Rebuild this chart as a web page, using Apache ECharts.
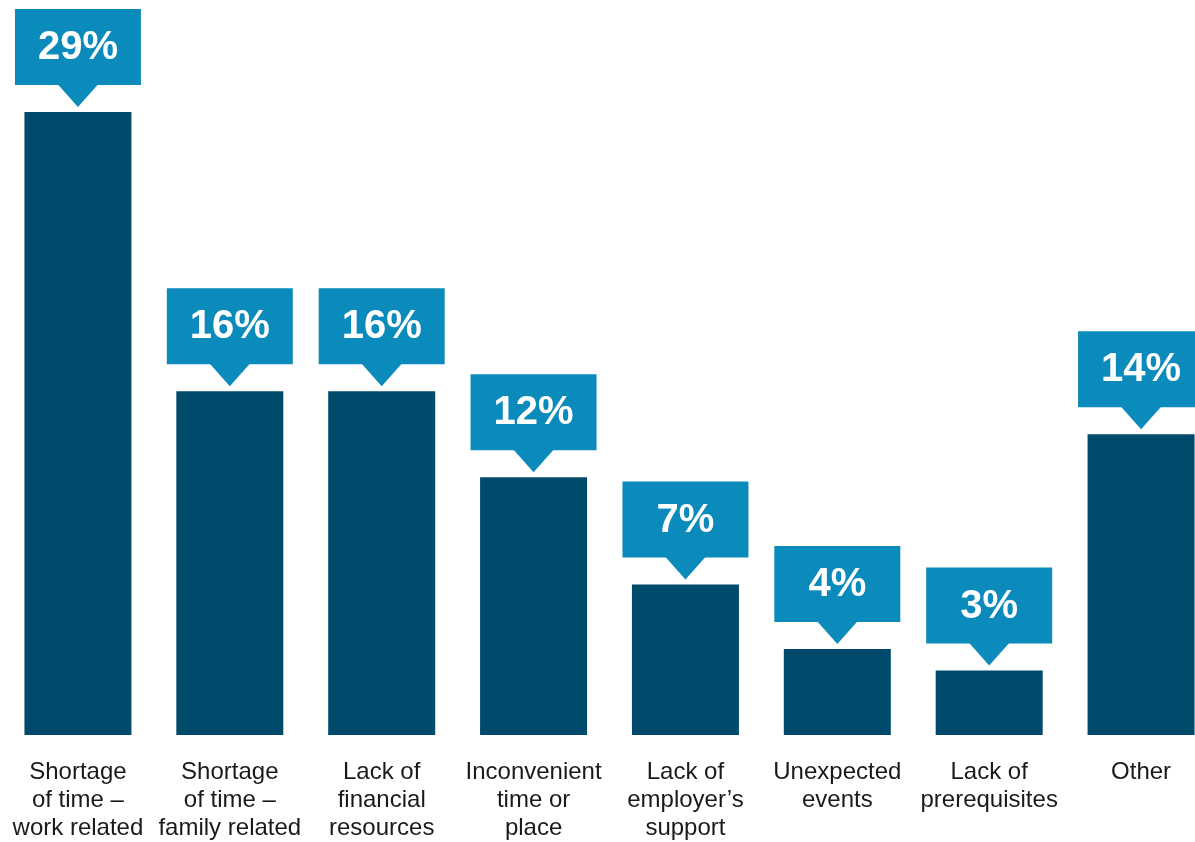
<!DOCTYPE html>
<html>
<head>
<meta charset="utf-8">
<title>Reasons for not participating</title>
<script src="https://cdn.jsdelivr.net/npm/echarts@6/dist/echarts.min.js"></script>
<style>
  html, body { margin: 0; padding: 0; background: #ffffff; overflow: hidden; }
  #chart { width: 1217px; height: 842px; }
</style>
</head>
<body>
<div id="chart"></div>
<script>
// Category names (line breaks as printed under each bar)
const categories = [
  'Shortage\nof time –\nwork related',
  'Shortage\nof time –\nfamily related',
  'Lack of\nfinancial\nresources',
  'Inconvenient\ntime or\nplace',
  'Lack of\nemployer’s\nsupport',
  'Unexpected\nevents',
  'Lack of\nprerequisites',
  'Other'
];

// Share of respondents, percent
const shares = [29, 16, 16, 12, 7, 4, 3, 14];

const BAR_COLOR = '#004b6b';
const CALLOUT_COLOR = '#0b8bbb';
const FONT = '"Liberation Sans", Arial, Helvetica, sans-serif';

const chart = echarts.init(document.getElementById('chart'), null, { renderer: 'canvas' });

// Callout box with a downward pointer sitting above each bar
function renderCallout(params, api) {
  const idx = api.value(0);
  const val = api.value(1);
  const top = api.coord([idx, val]);
  const cx = top[0];
  const ty = top[1];
  const boxW = 126, boxH = 76, tri = 22, triHalf = 20, gap = 5;
  const tipY = ty - gap;
  const baseY = tipY - tri;
  const boxY = baseY - boxH;
  return {
    type: 'group',
    children: [
      {
        type: 'rect',
        shape: { x: cx - boxW / 2, y: boxY, width: boxW, height: boxH },
        style: { fill: CALLOUT_COLOR }
      },
      {
        type: 'polygon',
        shape: { points: [[cx - triHalf, baseY - 0.5], [cx + triHalf, baseY - 0.5], [cx, tipY]] },
        style: { fill: CALLOUT_COLOR }
      },
      {
        type: 'text',
        style: {
          text: val + '%',
          x: cx,
          y: boxY + boxH / 2 + 1,
          fill: '#ffffff',
          font: 'bold 40px ' + FONT,
          textAlign: 'center',
          textVerticalAlign: 'middle',
          verticalAlign: 'middle'
        }
      }
    ]
  };
}

chart.setOption({
  backgroundColor: '#ffffff',
  animation: false,
  grid: { left: 2, top: 4.5, right: 0, bottom: 104, containLabel: false },
  xAxis: {
    type: 'category',
    data: categories,
    axisLine: { show: false },
    axisTick: { show: false },
    axisLabel: {
      interval: 0,
      margin: 23,
      color: '#1a1a1a',
      fontFamily: FONT,
      fontSize: 24,
      lineHeight: 28,
      align: 'center',
      verticalAlign: 'top'
    }
  },
  yAxis: {
    type: 'value',
    min: 0,
    max: 34,
    show: false,
    splitLine: { show: false }
  },
  series: [
    {
      type: 'bar',
      data: shares,
      barWidth: 107,
      itemStyle: { color: BAR_COLOR },
      silent: true
    },
    {
      type: 'custom',
      data: shares.map((v, i) => [i, v]),
      renderItem: renderCallout,
      clip: false,
      silent: true,
      z: 3
    }
  ]
});
</script>
</body>
</html>
